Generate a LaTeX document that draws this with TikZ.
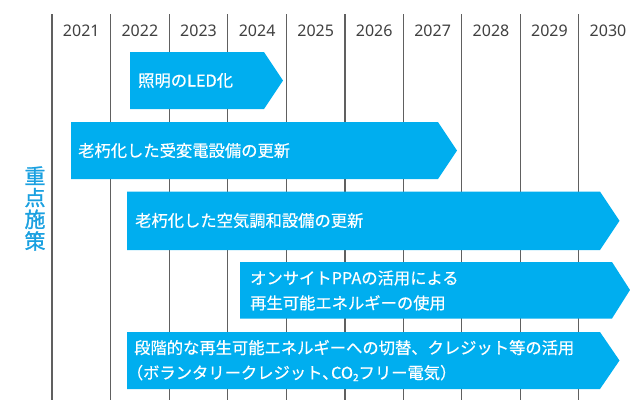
\documentclass[tikz,border=0pt]{standalone}
\usepackage{fontspec}
\setmainfont{Noto Sans CJK JP}
\newfontfamily\jpmed[FakeBold=0.5]{Noto Sans CJK JP}
\newfontfamily\jptitle[FakeBold=1.2]{Noto Sans CJK JP}
\newfontfamily\yearfont{Noto Sans}
\definecolor{barblue}{HTML}{00AEEF}
\definecolor{titleblue}{HTML}{1AA0E0}
\definecolor{gridgray}{HTML}{606060}
\definecolor{yeargray}{HTML}{404040}
\begin{document}
\begin{tikzpicture}[x=1pt,y=-1pt,
  gridline/.style={draw=gridgray,line width=1.1pt},
  yearlabel/.style={text=yeargray,font=\yearfont\fontsize{16}{16}\selectfont,inner sep=0pt,anchor=center},
  bar/.style={fill=barblue,draw=none},
  bartext/.style={text=white,font=\jpmed\fontsize{16.3}{25}\selectfont,align=left,anchor=west,inner sep=0pt},
  titletext/.style={text=titleblue,font=\jptitle\fontsize{21}{21.7}\selectfont,align=center,inner sep=0pt}]
\useasboundingbox (0,0) rectangle (630,400);
% grid lines
\foreach \i/\x in {0/52,1/110.6,2/169.2,3/227.8,4/286.4,5/345,6/403.4,7/461.8,8/520.2,9/578.6}{
  \coordinate (gt\i) at (\x,14);
  \coordinate (gb\i) at (\x,400);
  \draw[gridline] (gt\i) -- (gb\i);
}
% year labels
\foreach \i/\x/\y in {0/81.3/2021,1/139.9/2022,2/198.5/2023,3/257.1/2024,4/315.7/2025,5/374.2/2026,6/432.6/2027,7/491/2028,8/549.4/2029,9/608/2030}{
  \node[yearlabel] (y\i) at (\x,30.5) {\y};
}
% title
\node[titletext] (title) at (35,208.5) {重\\点\\施\\策};
% bars
\path[bar] (130,52) -- (264,52) -- (283,80.5) -- (264,109) -- (130,109) -- cycle;
\node[bartext] (b1) at (138,80.5) {照明のLED化};
\path[bar] (71,122) -- (438,122) -- (457,150.5) -- (438,179) -- (71,179) -- cycle;
\node[bartext] (b2) at (78,150.5) {老朽化した受変電設備の更新};
\path[bar] (127,191.5) -- (600,191.5) -- (619.5,220.8) -- (600,250) -- (127,250) -- cycle;
\node[bartext] (b3) at (135,220.5) {老朽化した空気調和設備の更新};
\path[bar] (240,262) -- (612,262) -- (630,290) -- (612,318.5) -- (240,318.5) -- cycle;
\node[bartext] (b4) at (250,290.5) {オンサイトPPAの活用による\\再生可能エネルギーの使用};
\path[bar] (127,332) -- (600,332) -- (619.5,360.5) -- (600,389) -- (127,389) -- cycle;
\node[bartext] (b5) at (134,360.5) {段階的な再生可能エネルギーへの切替、クレジット等の活用\\\hspace*{-0.45em}（ボランタリークレジット、\kern-0.45em CO\raisebox{-0.25ex}{\fontsize{10}{10}\selectfont 2}フリー電気）};
\end{tikzpicture}
\end{document}
